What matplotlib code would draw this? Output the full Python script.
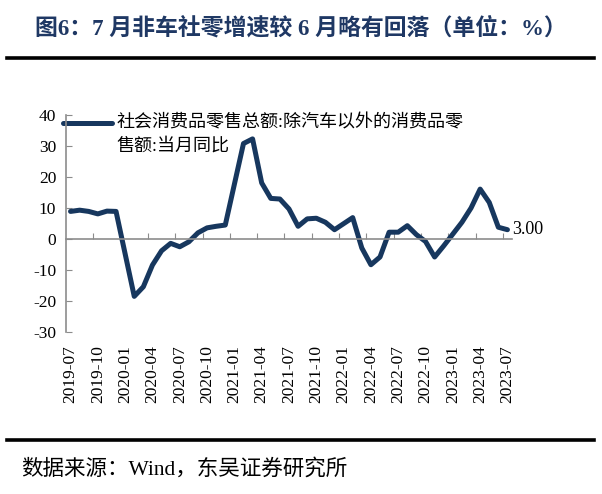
import numpy as np
import pandas as pd
import matplotlib
matplotlib.use("Agg")
import matplotlib.pyplot as plt
from matplotlib.transforms import blended_transform_factory

# 中文字体：拉丁字符用 Liberation Serif，中文回退到 Noto Sans CJK SC
plt.rcParams["font.family"] = ["Liberation Serif", "Noto Sans CJK SC"]
plt.rcParams["axes.unicode_minus"] = False

# 月份类别
months = pd.date_range("2019-07-01", "2023-07-01", freq="MS").strftime("%Y-%m").tolist()

# 社会消费品零售总额:除汽车以外的消费品零售额:当月同比（1月无数据）
values = [8.9, 9.3, 8.9, 8.1, 9.0, 8.9,
          None, -18.5, -15.4, -8.4, -3.8, -1.4, -2.5, -0.9, 2.0, 3.6, 4.1, 4.5,
          None, 30.8, 32.3, 18.1, 13.1, 12.9, 9.7, 4.1, 6.5, 6.7, 5.4, 3.0,
          None, 6.9, -2.9, -8.3, -5.8, 2.2, 2.2, 4.3, 1.4, -0.8, -5.8, -2.2,
          None, 5.4, 10.0, 16.1, 11.8, 3.8, 3.0]

legend_label = "社会消费品零售总额:除汽车以外的消费品零\n售额:当月同比"
title = "图6：7 月非车社零增速较 6 月略有回落（单位：%）"
source = "数据来源：Wind，东吴证券研究所"

line_color = "#17375E"
grey = "#8C8C8C"

fig = plt.figure(figsize=(6.02, 4.94), dpi=100)
ax = fig.add_axes([0.1096, 0.3279, 0.7409, 0.4393])

x = np.arange(len(months))
y = np.array([np.nan if v is None else v for v in values])
ok = ~np.isnan(y)
ax.plot(x[ok], y[ok], color=line_color, lw=3.6, solid_joinstyle="round", solid_capstyle="round")

ax.set_xlim(-0.5, len(months) - 0.5)
ax.set_ylim(-30, 40)
ax.set_yticks(range(-30, 41, 10))

# 坐标轴样式
for s in ["top", "right"]:
    ax.spines[s].set_visible(False)
ax.spines["left"].set_color(grey)
ax.spines["bottom"].set_color(grey)
ax.spines["bottom"].set_position(("data", 0))
ax.spines["left"].set_linewidth(1.2)
ax.spines["bottom"].set_linewidth(1.2)

ax.set_xticks(np.arange(2.5, len(months) - 1, 3))
ax.tick_params(axis="x", direction="in", length=4, color=grey, labelbottom=False)
ax.tick_params(axis="y", direction="in", length=4, color=grey, labelsize=12.5, pad=7)
for lab in ax.get_yticklabels():
    lab.set_family("Liberation Serif")

# x 轴标签放在绘图区下方
trans = blended_transform_factory(ax.transData, ax.transAxes)
for i in range(0, len(months), 3):
    ax.text(i, -0.06, months[i], transform=trans, rotation=90, ha="center", va="top",
            fontsize=12.5, family="Liberation Serif")

# 最新值标注
ax.text(len(months) - 0.45, values[-1], "%.2f" % values[-1], ha="left", va="center",
        fontsize=13, family="Liberation Serif", clip_on=False)

# 图例（手动绘制）
ax.plot([-0.007, 0.103], [0.9645, 0.9645], transform=ax.transAxes, color=line_color,
        lw=3.6, solid_capstyle="round", clip_on=False)
ax.text(0.114, 0.9645 + 0.037, legend_label, transform=ax.transAxes, ha="left", va="top",
        fontsize=13, linespacing=1.45, family=["Liberation Serif", "Noto Sans CJK SC"])

# 标题与分隔线
fig.text(0.5, 1 - 28 / 494, title, ha="center", va="center", fontsize=16.5,
         fontweight="bold", color="#1F3864")
fig.add_artist(plt.Line2D([7 / 602, 594 / 602], [1 - 58 / 494, 1 - 58 / 494], color="black", lw=2.6))
fig.add_artist(plt.Line2D([7 / 602, 594 / 602], [1 - 440 / 494, 1 - 440 / 494], color="black", lw=2.6))

# 数据来源
fig.text(21 / 602, 1 - 469 / 494, source, ha="left", va="center", fontsize=15.5)

fig.savefig("out.png", dpi=100)
